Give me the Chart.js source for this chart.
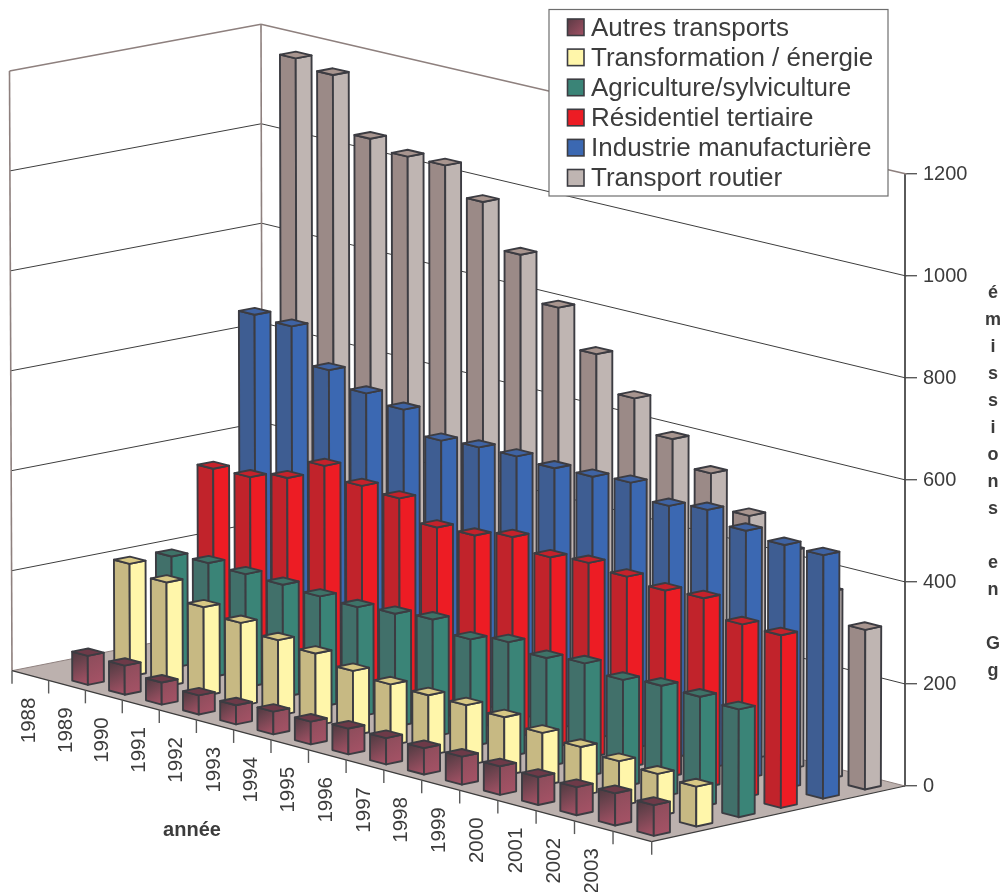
<!DOCTYPE html>
<html>
<head>
<meta charset="utf-8">
<title>Émissions par secteur</title>
<script src="https://cdn.jsdelivr.net/npm/chart.js@4/dist/chart.umd.min.js"></script>
<style>
    html, body { margin: 0; background: #fff; overflow: hidden; }
    canvas { display: block; }
</style>
</head>
<body>
<canvas id="bar" width="1005" height="892"></canvas>
<script>
    // valeurs (Gg)
    var years = ['1988', '1989', '1990', '1991', '1992', '1993', '1994', '1995',
                 '1996', '1997', '1998', '1999', '2000', '2001', '2002', '2003'];
    var seriesNames = ['Autres transports', 'Transformation / énergie', 'Agriculture/sylviculture',
                       'Résidentiel tertiaire', 'Industrie manufacturière', 'Transport routier'];
    var autresTransports = [58, 58, 44, 38, 38, 45, 45, 51, 52, 52, 55, 56, 55, 55, 63, 60];
    var transformation = [225, 207, 177, 165, 150, 143, 128, 121, 119, 119, 115, 104, 96, 88, 83, 78];
    var agriculture = [223, 229, 226, 224, 220, 218, 224, 232, 212, 226, 214, 223, 210, 218, 216, 211];
    var residentiel = [382, 384, 401, 444, 423, 417, 378, 381, 397, 376, 384, 376, 368, 372, 340, 338];
    var industrie = [674, 669, 600, 572, 558, 515, 520, 521, 516, 518, 525, 498, 509, 487, 478, 477];
    var routier = [1172, 1156, 1046, 1028, 1028, 973, 886, 799, 725, 656, 594, 545, 480, 429, 367, 313];
    var seriesValues = [autresTransports, transformation, agriculture, residentiel, industrie, routier];

    // couleurs des faces : gauche, droite, dessus
    var leftFaces = [['#4c3a40', '#a85367'], '#c7b983', '#41706a', '#c1232b', '#3e5d92', '#9b8a87'];
    var rightFaces = [['#8a4c5a', '#a85367'], '#fff6aa', '#3a8477', '#ed1c24', '#3b68b2', '#bfb5b2'];
    var topFaces = ['#6d3a48', '#d8c884', '#3e7368', '#c5222b', '#3f63a3', '#a8958f'];
    var swatches = [['#5a3a44', '#a35165'], '#fff6aa', '#3a8477', '#ed1c24', '#3b68b2', '#bfb5b2'];

    var edgeColor = '#3c3c42';
    var frameColor = '#8e807e';
    var gridColor = '#3d3d3d';
    var textColor = '#3c3c3c';
    var fontName = '"Liberation Sans", Arial, sans-serif';

    // repere 3D : coins du sol et hauteur/inclinaison des murs a chaque coin
    var floorA = [12, 670.7], floorB = [651.7, 841.7], floorC = [905, 786], floorD = [262.5, 621];
    var heightRatio = [0.980, 1.005, 1.000, 0.975];
    var leanAtTop = [-2.5, 0.5, 1.5, -1.5];
    var perspective = 0.5;
    var barWidthU = 0.425, barWidthV = 0.38;

    var homography = (function () {
        var x0 = floorA[0], y0 = floorA[1], x1 = floorB[0], y1 = floorB[1];
        var x2 = floorC[0], y2 = floorC[1], x3 = floorD[0], y3 = floorD[1];
        var dx1 = x1 - x2, dx2 = x3 - x2, sx = x0 - x1 + x2 - x3;
        var dy1 = y1 - y2, dy2 = y3 - y2, sy = y0 - y1 + y2 - y3;
        var det = dx1 * dy2 - dx2 * dy1;
        var g = (sx * dy2 - dx2 * sy) / det;
        var h = (dx1 * sy - sx * dy1) / det;
        return {
            a: x1 - x0 + g * x1, b: x3 - x0 + h * x3, c: x0,
            d: y1 - y0 + g * y1, e: y3 - y0 + h * y3, f: y0, g: g, h: h
        };
    })();

    function bilinear(corners, u, v) {
        return corners[0] * (1 - u) * (1 - v) + corners[1] * u * (1 - v) +
               corners[2] * u * v + corners[3] * (1 - u) * v;
    }

    // u : position sur l'axe des annees, v : profondeur, value : en Gg
    function project(chart, u, v, value) {
        var H = homography, y = chart.scales.y;
        var w = H.g * u + H.h * v + 1;
        var flatX = bilinear([floorA[0], floorB[0], floorC[0], floorD[0]], u, v);
        var flatY = bilinear([floorA[1], floorB[1], floorC[1], floorD[1]], u, v);
        var px = perspective * (H.a * u + H.b * v + H.c) / w + (1 - perspective) * flatX;
        var py = perspective * (H.d * u + H.e * v + H.f) / w + (1 - perspective) * flatY;
        var rise = (y.getPixelForValue(0) - y.getPixelForValue(value)) * bilinear(heightRatio, u, v);
        return [px + bilinear(leanAtTop, u, v) * value / y.max, py - rise];
    }

    function yearU(chart, slot) {
        var x = chart.scales.x;
        return (x.getPixelForValue(slot) - x.left) / x.width;
    }

    function paint(ctx, color, pts) {
        if (!Array.isArray(color)) return color;
        var minX = Infinity, maxX = -Infinity, minY = Infinity, maxY = -Infinity;
        pts.forEach(function (p) {
            minX = Math.min(minX, p[0]); maxX = Math.max(maxX, p[0]);
            minY = Math.min(minY, p[1]); maxY = Math.max(maxY, p[1]);
        });
        var grad = ctx.createLinearGradient(minX, minY, maxX, maxY);
        grad.addColorStop(0, color[0]);
        grad.addColorStop(1, color[1]);
        return grad;
    }

    function face(ctx, pts, color) {
        ctx.beginPath();
        pts.forEach(function (p, i) {
            if (i) ctx.lineTo(p[0], p[1]); else ctx.moveTo(p[0], p[1]);
        });
        ctx.closePath();
        ctx.fillStyle = paint(ctx, color, pts);
        ctx.fill();
        ctx.stroke();
    }

    class Bar3DController extends Chart.BarController {
        draw() {
            var chart = this.chart, ctx = chart.ctx, s = this.index;
            var data = this.getDataset().data;
            var count = seriesValues.length;
            ctx.save();
            ctx.strokeStyle = edgeColor;
            ctx.lineWidth = 1.9;
            ctx.lineJoin = 'round';
            for (var i = 0; i < data.length; i++) {
                // les barres commencent une case apres le premier libelle
                var uc = yearU(chart, i + 1);
                var du = barWidthU / 2 / chart.data.labels.length;
                var dv = barWidthV / 2 / count;
                var vc = (s + 0.5) / count;
                var u0 = uc - du, u1 = uc + du, v0 = vc - dv, v1 = vc + dv;
                var val = data[i];
                face(ctx, [project(chart, u0, v0, 0), project(chart, u1, v0, 0),
                           project(chart, u1, v0, val), project(chart, u0, v0, val)], leftFaces[s]);
                face(ctx, [project(chart, u1, v0, 0), project(chart, u1, v1, 0),
                           project(chart, u1, v1, val), project(chart, u1, v0, val)], rightFaces[s]);
                face(ctx, [project(chart, u0, v0, val), project(chart, u1, v0, val),
                           project(chart, u1, v1, val), project(chart, u0, v1, val)], topFaces[s]);
            }
            ctx.restore();
        }
    }
    Bar3DController.id = 'bar3d';
    Bar3DController.defaults = Chart.BarController.defaults;
    Bar3DController.overrides = Chart.BarController.overrides;
    Chart.register(Bar3DController);

    function line(ctx, a, b) {
        ctx.beginPath();
        ctx.moveTo(a[0], a[1]);
        ctx.lineTo(b[0], b[1]);
        ctx.stroke();
    }

    var roomPlugin = {
        id: 'room',
        beforeDatasetsDraw: function (chart) {
            var ctx = chart.ctx, y = chart.scales.y;
            ctx.save();
            // sol
            ctx.fillStyle = '#bcb1ae';
            ctx.beginPath();
            ctx.moveTo(floorA[0], floorA[1]);
            ctx.lineTo(floorB[0], floorB[1]);
            ctx.lineTo(floorC[0], floorC[1]);
            ctx.lineTo(floorD[0], floorD[1]);
            ctx.closePath();
            ctx.fill();
            // murs
            y.ticks.forEach(function (t) {
                var isTop = t.value === y.max;
                ctx.strokeStyle = isTop || t.value === 0 ? frameColor : gridColor;
                ctx.lineWidth = isTop ? 1.6 : 1;
                var a = project(chart, 0, 0, t.value);
                var d = project(chart, 0, 1, t.value);
                var c = project(chart, 1, 1, t.value);
                line(ctx, a, d);
                line(ctx, d, c);
            });
            ctx.strokeStyle = frameColor;
            ctx.lineWidth = 1.6;
            line(ctx, project(chart, 0, 0, 0), project(chart, 0, 0, y.max));
            line(ctx, project(chart, 0, 1, 0), project(chart, 0, 1, y.max));
            // bord avant du sol
            ctx.strokeStyle = gridColor;
            ctx.lineWidth = 1.2;
            line(ctx, floorA, floorB);
            line(ctx, floorB, floorC);
            // graduations et annees
            var slots = chart.data.labels.length;
            ctx.lineWidth = 1.4;
            ctx.strokeStyle = '#5a5a5a';
            for (var i = 0; i <= slots; i++) {
                var p = project(chart, yearU(chart, i - 0.5), 0, 0);
                line(ctx, p, [p[0], p[1] + 13]);
            }
            ctx.fillStyle = textColor;
            ctx.font = '20.5px ' + fontName;
            ctx.textAlign = 'right';
            ctx.textBaseline = 'middle';
            years.forEach(function (label, i) {
                var q = project(chart, yearU(chart, i), 0, 0);
                ctx.save();
                ctx.translate(q[0] - 1, q[1] + 22);
                ctx.rotate(-Math.PI / 2);
                ctx.fillText(label, 0, 0);
                ctx.restore();
            });
            ctx.font = 'bold 20px ' + fontName;
            ctx.textAlign = 'center';
            ctx.fillText('année', 192, 830.5);
            ctx.restore();
        },
        afterDraw: function (chart) {
            var ctx = chart.ctx;
            ctx.save();
            // legende
            ctx.fillStyle = '#fff';
            ctx.strokeStyle = '#6e6e6e';
            ctx.lineWidth = 1.2;
            ctx.fillRect(549, 9.5, 339, 186.5);
            ctx.strokeRect(549, 9.5, 339, 186.5);
            ctx.font = '26px ' + fontName;
            ctx.textAlign = 'left';
            ctx.textBaseline = 'middle';
            chart.data.datasets.forEach(function (ds, s) {
                var rowY = 27.5 + s * 30.1;
                ctx.strokeStyle = edgeColor;
                ctx.lineWidth = 1.6;
                ctx.fillStyle = paint(ctx, swatches[s], [[567, rowY - 8.5], [584, rowY + 8.5]]);
                ctx.fillRect(567.5, rowY - 8.5, 16.5, 16.5);
                ctx.strokeRect(567.5, rowY - 8.5, 16.5, 16.5);
                ctx.fillStyle = textColor;
                ctx.fillText(ds.label, 591, rowY + 1);
            });
            // titre vertical
            var title = 'émissions en Gg';
            ctx.font = 'bold 18px ' + fontName;
            ctx.textAlign = 'center';
            for (var i = 0; i < title.length; i++) {
                ctx.fillText(title[i], 993, 293 + i * 27);
            }
            ctx.restore();
        }
    };

    new Chart(document.getElementById('bar').getContext('2d'), {
        type: 'bar3d',
        data: {
            labels: years.concat(['']),
            datasets: seriesNames.map(function (name, s) {
                return { label: name, data: seriesValues[s], clip: false };
            })
        },
        options: {
            responsive: false,
            animation: false,
            layout: { padding: { top: 174, bottom: 106, left: 0, right: 0 } },
            plugins: { legend: { display: false }, tooltip: { enabled: false } },
            scales: {
                x: { type: 'category', display: false, offset: true },
                y: {
                    type: 'linear',
                    position: 'right',
                    min: 0,
                    max: 1200,
                    afterFit: function (scale) { scale.width = 100; },
                    border: { color: '#5a5a5a', width: 2 },
                    grid: { drawOnChartArea: false, tickLength: 12, color: '#5a5a5a', lineWidth: 1.4 },
                    ticks: {
                        stepSize: 200,
                        padding: 6,
                        color: textColor,
                        font: { family: fontName, size: 20 },
                        callback: function (value) { return String(value); }
                    }
                }
            }
        },
        plugins: [roomPlugin]
    });
</script>
</body>
</html>
